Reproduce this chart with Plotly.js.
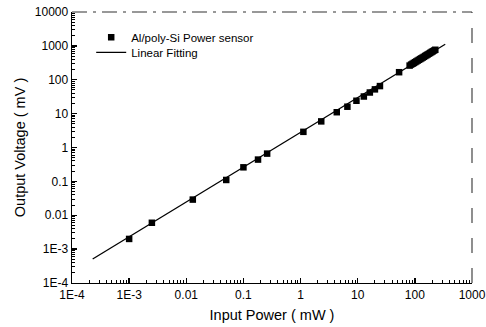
<!DOCTYPE html>
<html><head><meta charset="utf-8">
<script src="https://cdn.plot.ly/plotly-3.0.1.min.js"></script>
<style>html,body{margin:0;padding:0;background:#fff}#c{width:486px;height:327px}</style>
</head><body><div id="c"></div>
<script>
// Measured data (Al/poly-Si power sensor)
const inputPower = [0.001, 0.0025, 0.013, 0.05, 0.1, 0.18, 0.26, 1.12, 2.3, 4.3, 6.6, 9.5, 12.8, 16.3, 20, 24.5, 53,
  81, 86, 91, 96, 101, 106, 112, 118, 124, 130, 137, 144, 152, 160, 168, 177, 186, 196, 206, 217, 228];
const outputVoltage = [0.002, 0.006, 0.029, 0.11, 0.26, 0.44, 0.66, 2.9, 5.9, 11, 16, 24, 32, 42, 52, 65, 167,
  262, 280, 296, 313, 330, 347, 368, 388, 408, 428, 452, 476, 504, 532, 560, 590, 622, 658, 692, 730, 768];
// Linear fitting line endpoints
const fitPower = [0.00023, 340];
const fitVoltage = [0.00051, 1120];
// Tick labels
const xTickVals = [1e-4, 1e-3, 0.01, 0.1, 1, 10, 100, 1000];
const xTickText = ["1E-4", "1E-3", "0.01", "0.1", "1", "10", "100", "1000"];
const yTickVals = [1e-4, 1e-3, 0.01, 0.1, 1, 10, 100, 1000, 10000];
const yTickText = ["1E-4", "1E-3", "0.01", "0.1", "1", "10", "100", "1000", "10000"];

function minorVals(decades) {
  const out = [];
  decades.slice(0, -1).forEach(d => { for (let k = 2; k <= 9; k++) out.push(d * k); });
  return out;
}

const font = "Liberation Sans, Arial, sans-serif";
const traces = [
  {x: inputPower, y: outputVoltage, mode: "markers", type: "scatter", name: "Al/poly-Si Power sensor",
   marker: {symbol: "square", size: 6.5, color: "#000"}, legend: "legend"},
  {x: fitPower, y: fitVoltage, mode: "lines", type: "scatter", name: "Linear Fitting",
   line: {color: "#000", width: 1.3}, legend: "legend2"}
];
const axisCommon = {
  type: "log", showgrid: false, zeroline: false, showline: true, linecolor: "#000", linewidth: 1.4,
  ticks: "inside", ticklen: 5, tickwidth: 1.3, tickcolor: "#000",
  tickfont: {family: font, size: 12, color: "#000"}, tickmode: "array"
};
const legendCommon = {xanchor: "left", yanchor: "middle", bgcolor: "rgba(0,0,0,0)",
  font: {family: font, size: 11.5, color: "#000"}, itemwidth: 30};
const layout = {
  width: 486, height: 327, margin: {l: 72, r: 14, t: 12, b: 44},
  paper_bgcolor: "#fff", plot_bgcolor: "#fff", font: {family: font, color: "#000"},
  xaxis: Object.assign({}, axisCommon, {range: [-4, 3], tickvals: xTickVals, ticktext: xTickText,
    minor: {tickmode: "array", tickvals: minorVals(xTickVals), ticks: "inside", ticklen: 3, tickwidth: 1, tickcolor: "#000", showgrid: false},
    title: {text: "Input Power ( mW )", font: {family: font, size: 14.5, color: "#000"}, standoff: 9}}),
  yaxis: Object.assign({}, axisCommon, {range: [-4, 4], tickvals: yTickVals, ticktext: yTickText,
    minor: {tickmode: "array", tickvals: minorVals(yTickVals), ticks: "inside", ticklen: 3, tickwidth: 1, tickcolor: "#000", showgrid: false},
    title: {text: "Output Voltage ( mV )", font: {family: font, size: 14.5, color: "#000"}, standoff: 5}}),
  showlegend: true,
  legend: Object.assign({}, legendCommon, {x: 0.048, y: 0.907}),
  legend2: Object.assign({}, legendCommon, {x: 0.048, y: 0.851}),
  shapes: [
    {type: "line", xref: "paper", yref: "paper", x0: 0, x1: 1, y0: 1, y1: 1,
     line: {color: "#333", width: 1.1, dash: "longdashdot"}},
    {type: "line", xref: "paper", yref: "paper", x0: 1, x1: 1, y0: 0, y1: 1,
     line: {color: "#333", width: 1.1, dash: "longdash"}}
  ]
};
Plotly.newPlot("c", traces, layout, {displayModeBar: false, staticPlot: true});
</script></body></html>
